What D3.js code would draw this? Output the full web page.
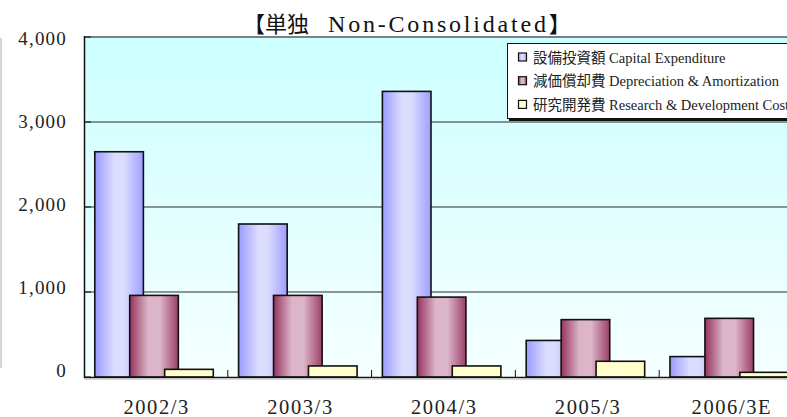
<!DOCTYPE html>
<html><head><meta charset="utf-8">
<script src="https://cdn.jsdelivr.net/npm/d3@7"></script>
<style>body{margin:0;background:#fff}svg{display:block}</style>
</head><body>
<script>
// Capital expenditure, depreciation and R&D, non-consolidated (¥ units as reported)
const categories = ["2002/3", "2003/3", "2004/3", "2005/3", "2006/3E"];
const seriesNames = [
  "設備投資額 Capital Expenditure",
  "減価償却費 Depreciation & Amortization",
  "研究開発費 Research & Development Cost"
];
const capex = [2650, 1800, 3360, 430, 240];
const depreciation = [960, 960, 940, 675, 690];
const research = [90, 130, 130, 185, 55];
const yTicks = [0, 1000, 2000, 3000, 4000];
const titleParts = ["【単独", "Non-Consolidated", "】"];

const series = [capex, depreciation, research];
const fills = ["url(#gBlue)", "url(#gRed)", "url(#gYellow)"];

const W = 787, H = 417;
const serif = "'Liberation Serif', 'Noto Sans CJK JP', serif";

const svg = d3.select("body").append("svg").attr("width", W).attr("height", H);
const defs = svg.append("defs");

function hGrad(id, stops) {
  const g = defs.append("linearGradient").attr("id", id)
    .attr("x1", "0%").attr("x2", "100%").attr("y1", "0%").attr("y2", "0%");
  stops.forEach(([o, c]) => g.append("stop").attr("offset", o).attr("stop-color", c));
}
hGrad("gBlue", [["0%", "#9a9aff"], ["40%", "#dcdcff"], ["60%", "#dcdcff"], ["100%", "#9e9eff"]]);
hGrad("gRed", [["0%", "#96335f"], ["38%", "#dcb6c8"], ["62%", "#dcb6c8"], ["100%", "#9c3f69"]]);
hGrad("gYellow", [["0%", "#ffffc4"], ["50%", "#ffffd2"], ["100%", "#ffffc4"]]);
const bg = defs.append("linearGradient").attr("id", "gBg")
  .attr("x1", "0%").attr("x2", "0%").attr("y1", "0%").attr("y2", "100%");
bg.append("stop").attr("offset", "0%").attr("stop-color", "#ccffff");
bg.append("stop").attr("offset", "100%").attr("stop-color", "#f6ffff");

const x = d3.scaleBand().domain(categories).range([84, 803]).padding(0);
const y = d3.scaleLinear().domain([0, 4000]).range([377, 37]);
// tick labels sit on a slightly compressed scale
const yLabel = d3.scaleLinear().domain([0, 4000]).range([371, 39]);
const bw = x.bandwidth();
const barW = bw * 0.338, step = bw * 0.243, off = bw * 0.075;

// faint frame line at the far left
svg.append("line").attr("x1", 1).attr("x2", 1).attr("y1", 38).attr("y2", 368)
  .attr("stroke", "#d6d6d6").attr("stroke-width", 2);

// plot background
svg.append("rect").attr("x", 84).attr("y", 37).attr("width", 803 - 84).attr("height", 377 - 37)
  .attr("fill", "url(#gBg)");

// gridlines
svg.append("g").selectAll("line").data(yTicks.filter(v => v > 0 && v < 4000)).join("line")
  .attr("x1", 84).attr("x2", 803).attr("y1", d => y(d)).attr("y2", d => y(d))
  .attr("stroke", "#2a2a2a").attr("stroke-width", 1);

// bars, one series at a time so later series overlap earlier ones
series.forEach((vals, si) => {
  svg.append("g").selectAll("rect").data(vals).join("rect")
    .attr("x", (d, i) => x(categories[i]) + off + si * step)
    .attr("y", d => y(d))
    .attr("width", barW)
    .attr("height", d => y(0) - y(d))
    .attr("fill", fills[si])
    .attr("stroke", "#111").attr("stroke-width", 1.6);
});

// frame
svg.append("line").attr("x1", 84).attr("x2", 803).attr("y1", 37).attr("y2", 37)
  .attr("stroke", "#808080").attr("stroke-width", 2);
svg.append("line").attr("x1", 84.5).attr("x2", 84.5).attr("y1", 36).attr("y2", 378)
  .attr("stroke", "#111").attr("stroke-width", 1.5);
svg.append("line").attr("x1", 84).attr("x2", 803).attr("y1", 377.5).attr("y2", 377.5)
  .attr("stroke", "#111").attr("stroke-width", 1.5);
svg.append("line").attr("x1", 84).attr("x2", 803).attr("y1", 379.5).attr("y2", 379.5)
  .attr("stroke", "#d8d8d8").attr("stroke-width", 1);

// y ticks (inside) and labels
svg.append("g").selectAll("line").data(yTicks).join("line")
  .attr("x1", 84).attr("x2", 91).attr("y1", d => y(d)).attr("y2", d => y(d))
  .attr("stroke", "#111").attr("stroke-width", 1);
svg.append("g").selectAll("text").data(yTicks).join("text")
  .attr("x", 67).attr("y", d => yLabel(d))
  .attr("dy", "0.34em")
  .attr("text-anchor", "end")
  .attr("font-family", serif).attr("font-size", 19).attr("letter-spacing", 1.2)
  .attr("fill", "#222")
  .text(d => d3.format(",")(d));

// category boundary ticks
svg.append("g").selectAll("line").data(categories.slice(1)).join("line")
  .attr("x1", d => x(d)).attr("x2", d => x(d)).attr("y1", 370).attr("y2", 377)
  .attr("stroke", "#111").attr("stroke-width", 1);

// category labels
svg.append("g").selectAll("text").data(categories).join("text")
  .attr("x", d => x(d) + bw / 2 + 0.8).attr("y", 413.5)
  .attr("text-anchor", "middle")
  .attr("font-family", serif).attr("font-size", 20.5).attr("letter-spacing", 1.6)
  .attr("fill", "#222")
  .text(d => d);

// title: Japanese part, spaced Latin part, closing bracket
const title = svg.append("text").attr("x", 243).attr("y", 32)
  .attr("font-family", serif).attr("font-size", 22).attr("fill", "#111");
title.append("tspan").text(titleParts[0]);
title.append("tspan").attr("x", 328).attr("font-size", 24).attr("letter-spacing", 2.8)
  .text(titleParts[1]);
title.append("tspan").text(titleParts[2]);

// legend
const lg = svg.append("g");
lg.append("rect").attr("x", 509).attr("y", 45).attr("width", 300).attr("height", 76).attr("fill", "#111");
lg.append("rect").attr("x", 507.5).attr("y", 43.5).attr("width", 300).attr("height", 75)
  .attr("fill", "#fff").attr("stroke", "#111").attr("stroke-width", 1);
const rows = lg.selectAll("g.row").data(seriesNames).join("g").attr("class", "row")
  .attr("transform", (d, i) => `translate(0, ${57.5 + i * 23.7})`);
rows.append("rect").attr("x", 518.5).attr("y", -4.5).attr("width", 8).attr("height", 8)
  .attr("fill", (d, i) => fills[i]).attr("stroke", "#111").attr("stroke-width", 1.2);
rows.append("text").attr("x", 533).attr("y", 5)
  .attr("font-family", serif).attr("font-size", 14.5).attr("fill", "#222")
  .text(d => d);
</script>
</body></html>
